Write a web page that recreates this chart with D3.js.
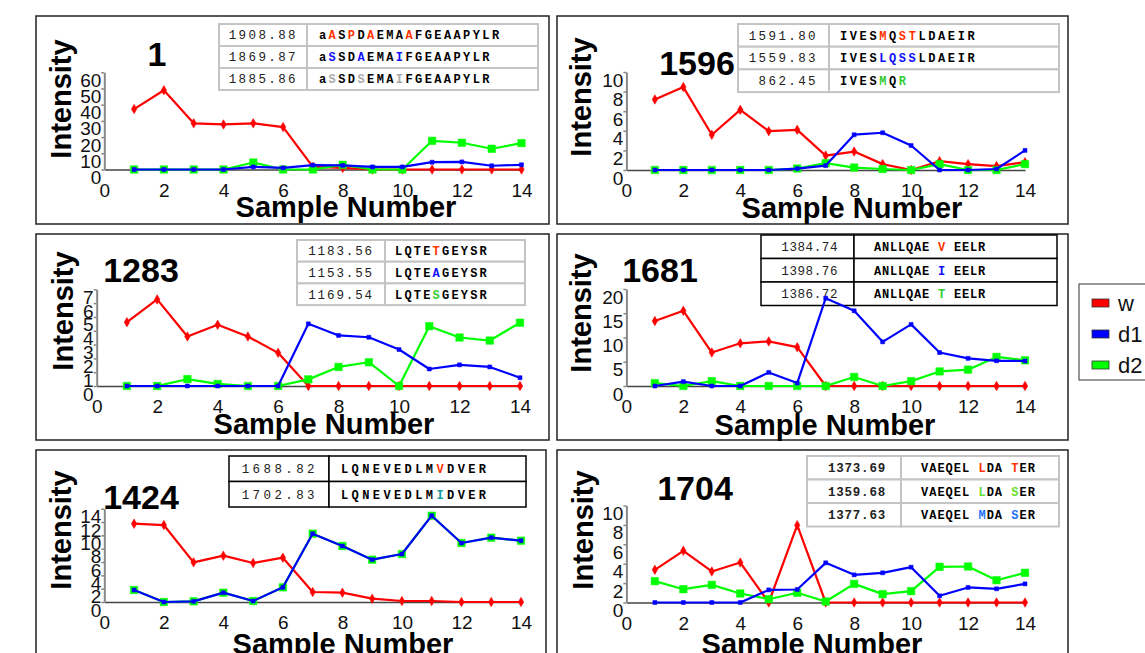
<!DOCTYPE html>
<html><head><meta charset="utf-8">
<script src="https://cdn.jsdelivr.net/npm/d3@7"></script>
<style>
body{margin:0;background:#fff;}
svg{display:block;font-family:"Liberation Sans",Arial,sans-serif;}
.mono{font-family:"Liberation Mono","Courier New",monospace;white-space:pre;}
</style></head><body>
<svg id="chart" width="1145" height="653"></svg>
<script>
// ---------- DATA ----------
const sampleNumbers = [1,2,3,4,5,6,7,8,9,10,11,12,13,14];
const xTicks = [0,2,4,6,8,10,12,14];
const seriesNames = ["w","d1","d2"];
const panelTitles = ["1","1596","1283","1681","1424","1704"];

const w_1 = [37.3,48.9,28.5,27.8,28.5,26.2,1.6,1.0,0,0,0,0,0,0];
const d1_1 = [0,0,0,0,1.6,1.0,2.7,2.5,1.6,1.6,4.5,4.7,2.3,2.9];
const d2_1 = [0,0,0,0,4.3,0,0,2.9,0,0,17.7,16.5,12.8,16.3];
const yTicks_1 = [0,10,20,30,40,50,60];

const w_1596 = [7.2,8.46,3.6,6.14,3.96,4.1,1.47,1.88,0.6,0,0.9,0.6,0.4,0.8];
const d1_1596 = [0,0,0,0,0,0.14,0.45,3.6,3.8,2.5,0,0,0.1,2.0];
const d2_1596 = [0,0,0,0,0,0.15,0.7,0.25,0.1,0,0.6,0,0,0.6];
const yTicks_1596 = [0,2,4,6,8,10];

const w_1283 = [4.62,6.27,3.58,4.43,3.58,2.4,0,0,0,0,0,0,0,0];
const d1_1283 = [0,0,0,0,0,0,4.5,3.66,3.53,2.64,1.23,1.53,1.38,0.6];
const d2_1283 = [0,0,0.5,0.15,0,0,0.48,1.38,1.72,0,4.33,3.51,3.29,4.58];
const yTicks_1283 = [0,1,2,3,4,5,6,7];

const w_1681 = [13.4,15.5,6.9,8.8,9.2,8.0,0,0,0,0,0,0,0,0];
const d1_1681 = [0,0.9,0,0,2.8,0.6,18.1,15.5,9.1,12.7,6.9,5.7,5.2,5.15];
const d2_1681 = [0.6,0,1.0,0,0,0,0,1.86,0,1.0,3.0,3.37,6.0,5.3];
const yTicks_1681 = [0,5,10,15,20];

const w_1424 = [11.75,11.55,5.95,6.95,5.85,6.65,1.5,1.4,0.5,0.15,0.15,0,0,0];
const d1_1424 = [1.8,0,0.1,1.4,0.15,2.2,10.25,8.4,6.35,7.2,12.95,8.85,9.65,9.2];
const d2_1424 = [1.8,0,0.1,1.4,0.15,2.2,10.25,8.4,6.35,7.2,12.95,8.85,9.65,9.2];
const yTicks_1424 = [0,2,4,6,8,10,12,14];

const w_1704 = [3.37,5.33,3.2,4.12,0,7.97,0,0,0,0,0,0,0,0];
const d1_1704 = [0,0,0,0,1.3,1.34,4.09,2.85,3.06,3.64,0.69,1.55,1.41,1.92];
const d2_1704 = [2.2,1.37,1.82,0.93,0.34,1.0,0.1,1.92,0.86,1.17,3.68,3.71,2.3,3.06];
const yTicks_1704 = [0,2,4,6,8,10];

// peptide tables: masses, sequences, colour masks (. = black)
const masses_1 = ["1908.88","1869.87","1885.86"];
const seqs_1 = ["aASPDAEMAAFGEAAPYLR","aSSDAEMAIFGEAAPYLR","aSSDSEMAIFGEAAPYLR"];
const masks_1 = [".r.r.r...r.........",".b..b...b.........",".x..x...x........."];
const masses_1596 = ["1591.80","1559.83","862.45"];
const seqs_1596 = ["IVESMQSTLDAEIR","IVESLQSSLDAEIR","IVESMQR"];
const masks_1596 = ["....r.rr......","....bbbb......","....g.g"];
const masses_1283 = ["1183.56","1153.55","1169.54"];
const seqs_1283 = ["LQTETGEYSR","LQTEAGEYSR","LQTESGEYSR"];
const masks_1283 = ["....r.....","....b.....","....g....."];
const masses_1681 = ["1384.74","1398.76","1386.72"];
const seqs_1681 = ["ANLLQAE V EELR","ANLLQAE I EELR","ANLLQAE T EELR"];
const masks_1681 = ["........r.....","........b.....","........g....."];
const masses_1424 = ["1688.82","1702.83"];
const seqs_1424 = ["LQNEVEDLMVDVER","LQNEVEDLMIDVER"];
const masks_1424 = [".........r....",".........t...."];
const masses_1704 = ["1373.69","1359.68","1377.63"];
const seqs_1704 = ["VAEQEL LDA TER","VAEQEL LDA SER","VAEQEL MDA SER"];
const masks_1704 = [".......r...r..",".......g...g..",".......b...b.."];

// ---------- STYLE / LAYOUT ----------
const seriesColors = {w:"#ff0000", d1:"#0000ff", d2:"#00ff00"};
const maskColors = {".":"#000", r:"#ff3300", b:"#1010ff", g:"#33cc33", x:"#aaaaaa", t:"#1a9a9a"};

const panels = [
 {w:w_1,d1:d1_1,d2:d2_1,yt:yTicks_1,masses:masses_1,seqs:seqs_1,masks:masks_1,
  box:[36,16,513,208], x0:104.3,x1:521.5,y0:169.5,yTop:72.3, title:[157,66], inten:[71,99], sample:[346,217],
  tab:{x:219,y:24,w:319,rh:22,split:307,stroke:"#c4c4c4",sw:2,numPad:9,numLs:2.4,numBold:false,seqPad:12,seqLs:2.4}},
 {w:w_1596,d1:d1_1596,d2:d2_1596,yt:yTicks_1596,masses:masses_1596,seqs:seqs_1596,masks:masks_1596,
  box:[557,16,511,208], x0:626.4,x1:1025,y0:170,yTop:72, title:[697,75], inten:[591,97], sample:[852,218],
  tab:{x:738,y:24,w:321,rh:22.7,split:829,stroke:"#c4c4c4",sw:2,numPad:11,numLs:2.4,numBold:false,seqPad:11,seqLs:2.6}},
 {w:w_1283,d1:d1_1283,d2:d2_1283,yt:yTicks_1283,masses:masses_1283,seqs:seqs_1283,masks:masks_1283,
  box:[36,234,513,206], x0:96.7,x1:520,y0:386,yTop:289.3, title:[141,282], inten:[73,311], sample:[324,434],
  tab:{x:297,y:240,w:228,rh:21.7,split:385,stroke:"#c4c4c4",sw:2,numPad:11,numLs:1.9,numBold:false,seqPad:10,seqLs:2.2}},
 {w:w_1681,d1:d1_1681,d2:d2_1681,yt:yTicks_1681,masses:masses_1681,seqs:seqs_1681,masks:masks_1681,
  box:[557,234,511,206], x0:626.4,x1:1025,y0:386,yTop:289, title:[660,282], inten:[591,313], sample:[825,435],
  tab:{x:761,y:235,w:296,rh:23.5,split:854,stroke:"#000",sw:1.5,numPad:16,numLs:0.6,numBold:false,seqPad:20,seqLs:0.8}},
 {w:w_1424,d1:d1_1424,d2:d2_1424,yt:yTicks_1424,masses:masses_1424,seqs:seqs_1424,masks:masks_1424,
  box:[36,450,510,215], x0:104.3,x1:521,y0:602,yTop:508.7, title:[141,509], inten:[71,530], sample:[343,654],
  tab:{x:229,y:456,w:297,rh:25.5,split:329,stroke:"#000",sw:1.5,numPad:11,numLs:3.4,numBold:false,seqPad:12,seqLs:3.4}},
 {w:w_1704,d1:d1_1704,d2:d2_1704,yt:yTicks_1704,masses:masses_1704,seqs:seqs_1704,masks:masks_1704,
  box:[557,450,511,215], x0:626.4,x1:1025,y0:602.5,yTop:505.5, title:[695,500], inten:[593,530], sample:[812,654],
  tab:{x:807,y:456,w:252,rh:23.5,split:901,stroke:"#c4c4c4",sw:2,numPad:15,numLs:0.8,numBold:true,seqPad:20,seqLs:1.0,
       colors:{r:"#ff3300",g:"#66e033",b:"#2070ff"}}}
];

const svg = d3.select("#chart");

panels.forEach((P,i) => {
  const g = svg.append("g");
  const [bx,by,bw,bh] = P.box;
  g.append("rect").attr("x",bx).attr("y",by).attr("width",bw).attr("height",bh)
    .attr("fill","#fff").attr("stroke","#222").attr("stroke-width",1.5);

  // table (drawn first so the lines can pass over it)
  const T = P.tab;
  const tg = g.append("g");
  P.masses.forEach((m,r) => {
    const ry = T.y + r*T.rh;
    tg.append("rect").attr("x",T.x).attr("y",ry).attr("width",T.split-T.x).attr("height",T.rh)
      .attr("fill","#fff").attr("stroke",T.stroke).attr("stroke-width",T.sw);
    tg.append("rect").attr("x",T.split).attr("y",ry).attr("width",T.x+T.w-T.split).attr("height",T.rh)
      .attr("fill","#fff").attr("stroke",T.stroke).attr("stroke-width",T.sw);
    tg.append("text").attr("class","mono").attr("x",T.split-T.numPad).attr("y",ry+T.rh/2+4.3)
      .attr("text-anchor","end").attr("font-size",12.5).attr("fill","#222")
      .attr("font-weight",T.numBold?"bold":"normal")
      .style("letter-spacing",T.numLs+"px").text(m);
    const st = tg.append("text").attr("class","mono").attr("x",T.split+T.seqPad).attr("y",ry+T.rh/2+4.3)
      .attr("font-size",12).attr("font-weight","bold").style("letter-spacing",T.seqLs+"px");
    const seq = P.seqs[r], mask = P.masks[r];
    let runs = [];
    for (let k=0;k<seq.length;k++){
      const c = mask[k]||".";
      if (runs.length && runs[runs.length-1].c===c) runs[runs.length-1].t += seq[k];
      else runs.push({c, t:seq[k]});
    }
    const cmap = Object.assign({}, maskColors, T.colors||{});
    runs.forEach(rn => st.append("tspan").attr("fill",cmap[rn.c]).text(rn.t));
  });

  const yMax = P.yt[P.yt.length-1];
  const x = d3.scaleLinear().domain([0,14]).range([P.x0,P.x1]);
  const y = d3.scaleLinear().domain([0,yMax]).range([P.y0,P.yTop]);

  // x axis
  const xa = g.append("g").attr("transform",`translate(0,${P.y0})`)
    .call(d3.axisBottom(x).tickValues(xTicks).tickFormat(d3.format("d")).tickSize(0).tickSizeOuter(0).tickPadding(14));
  xa.select(".domain").attr("stroke","#444").attr("stroke-width",1.5);
  xa.selectAll("text").attr("font-size",19).attr("fill","#111")
    .attr("font-family","Liberation Sans, Arial, sans-serif");

  // y axis
  const ya = g.append("g").attr("transform",`translate(${P.x0},0)`)
    .call(d3.axisLeft(y).tickValues(P.yt).tickFormat(d3.format("d")).tickSize(3).tickSizeOuter(0).tickPadding(0));
  ya.select(".domain").attr("stroke","#888").attr("stroke-width",2);
  ya.selectAll(".tick line").attr("stroke","#888").attr("stroke-width",1.5);
  ya.selectAll("text").attr("font-size",19).attr("fill","#111").attr("dy","0.74em")
    .attr("font-family","Liberation Sans, Arial, sans-serif");

  // series: red, green, blue order
  const order = ["w","d2","d1"];
  order.forEach(s => {
    const vals = P[s];
    const pts = sampleNumbers.map((n,k)=>[n,vals[k]]);
    const col = seriesColors[s];
    g.append("path").datum(pts)
      .attr("d", d3.line().x(d=>x(d[0])).y(d=>y(d[1])))
      .attr("fill","none").attr("stroke",col).attr("stroke-width",2.2).attr("stroke-linejoin","round");
    let sym, size;
    if (s==="w") { sym = d3.symbolDiamond; size = 26; }
    else if (s==="d1") { sym = d3.symbolSquare; size = 16; }
    else { sym = d3.symbolSquare; size = 56; }
    g.selectAll(null).data(pts).enter().append("path")
      .attr("transform",d=>`translate(${x(d[0])},${y(d[1])})`)
      .attr("d", d3.symbol().type(sym).size(size)())
      .attr("fill",col).attr("stroke",col).attr("stroke-width",0.5);
  });

  // titles
  g.append("text").attr("x",P.title[0]).attr("y",P.title[1]).attr("text-anchor","middle")
    .attr("font-size",34).attr("font-weight","bold").text(panelTitles[i]);
  g.append("text").attr("transform",`translate(${P.inten[0]},${P.inten[1]}) rotate(-90)`)
    .attr("text-anchor","middle").attr("font-size",29).attr("font-weight","bold").text("Intensity");
  g.append("text").attr("x",P.sample[0]).attr("y",P.sample[1]).attr("text-anchor","middle")
    .attr("font-size",29).attr("font-weight","bold").text("Sample Number");
});

// legend
const lg = svg.append("g");
lg.append("rect").attr("x",1079).attr("y",284).attr("width",80).attr("height",96)
  .attr("fill","#fff").attr("stroke","#333").attr("stroke-width",1);
const legY = d3.scalePoint().domain(seriesNames).range([303,365]);
seriesNames.forEach(s => {
  lg.append("rect").attr("x",1092).attr("y",legY(s)-4).attr("width",17).attr("height",8)
    .attr("fill",seriesColors[s]).attr("stroke","#333").attr("stroke-width",0.8);
  lg.append("text").attr("x",1118).attr("y",legY(s)+8).attr("font-size",22).attr("fill","#111").text(s);
});
</script>
</body></html>
